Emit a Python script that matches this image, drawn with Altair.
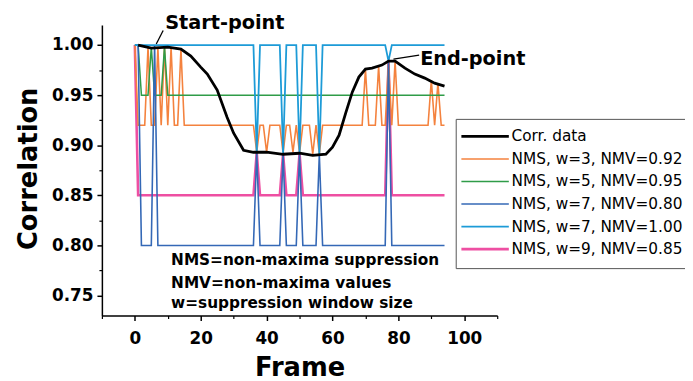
import altair as alt
import pandas as pd

# ---------------- data ----------------
series_names = [
    "Corr. data",
    "NMS, w=3, NMV=0.92",
    "NMS, w=5, NMV=0.95",
    "NMS, w=7, NMV=0.80",
    "NMS, w=7, NMV=1.00",
    "NMS, w=9, NMV=0.85",
]
series_colors = ["#000000", "#f4823e", "#2f9c48", "#3468b6", "#1d9bd7", "#ee4fa2"]
series_widths = [2.8, 1.6, 1.5, 1.6, 1.8, 2.6]

corr_frames = [1, 5, 10, 14, 17, 20, 22, 25, 28, 30, 33, 36, 40, 45, 50, 54, 58, 60,
               62, 64, 66, 68, 70, 72, 75, 77, 79, 82, 85, 88, 91, 94]
corr_values = [1.000, 0.997, 0.998, 0.996, 0.989, 0.978, 0.971, 0.955, 0.928, 0.912,
               0.895, 0.893, 0.893, 0.891, 0.892, 0.890, 0.891, 0.898, 0.910, 0.932,
               0.953, 0.968, 0.976, 0.977, 0.980, 0.984, 0.984, 0.977, 0.971, 0.967,
               0.962, 0.959]

w3_frames = [0, 1, 3, 4, 5, 6, 7, 8, 9, 10, 11, 12, 13, 14, 15, 36, 37, 38, 39, 40, 41,
             44, 45, 46, 47, 48, 49, 50, 51, 53, 54, 55, 56, 57, 69, 70, 71, 73, 74, 75,
             76, 77, 78, 79, 80, 89, 90, 91, 92, 93, 94]
w3_values = [1.000, 0.920, 0.920, 0.998, 0.920, 0.920, 0.997, 0.920, 0.998, 0.920, 0.998,
             0.920, 0.920, 0.996, 0.920, 0.920, 0.893, 0.920, 0.920, 0.893, 0.920,
             0.920, 0.892, 0.920, 0.920, 0.893, 0.920, 0.892, 0.920, 0.920, 0.891, 0.920,
             0.891, 0.920, 0.920, 0.976, 0.920, 0.920, 0.979, 0.920, 0.920, 0.984, 0.920,
             0.984, 0.920, 0.920, 0.965, 0.920, 0.962, 0.920, 0.920]

w5_frames = [0, 1, 2, 4, 5, 6, 8, 9, 10, 94]
w5_values = [1.000, 1.000, 0.950, 0.950, 0.998, 0.950, 0.950, 0.998, 0.950, 0.950]

w7a_frames = [0, 1, 2, 5, 6, 7, 36, 37, 38, 44, 45, 46, 49, 50, 51, 55, 56, 57, 76, 77, 78, 94]
w7a_values = [1.000, 1.000, 0.800, 0.800, 1.000, 0.800, 0.800, 0.893, 0.800, 0.800, 0.892,
              0.800, 0.800, 0.892, 0.800, 0.800, 0.891, 0.800, 0.800, 0.984, 0.800, 0.800]

w7b_frames = [0, 36, 37, 38, 44, 45, 46, 49, 50, 51, 55, 56, 57, 76, 77, 78, 94]
w7b_values = [1.000, 1.000, 0.893, 1.000, 1.000, 0.892, 1.000, 1.000, 0.892, 1.000,
              1.000, 0.891, 1.000, 1.000, 0.984, 1.000, 1.000]

w9_frames = [0, 1, 36, 37, 38, 44, 45, 46, 49, 50, 51, 76, 77, 78, 94]
w9_values = [1.000, 0.850, 0.850, 0.893, 0.850, 0.850, 0.892, 0.850, 0.850, 0.892,
             0.850, 0.850, 0.984, 0.850, 0.850]

x_major = [0, 20, 40, 60, 80, 100]
x_minor = [-10, 10, 30, 50, 70, 90, 110]
y_major = [0.75, 0.80, 0.85, 0.90, 0.95, 1.00]
y_minor = [0.775, 0.825, 0.875, 0.925, 0.975]

note_lines = ["NMS=non-maxima suppression", "NMV=non-maxima values", "w=suppression window size"]
note_frames = [11.0, 11.0, 11.0]
note_values = [0.7806, 0.7579, 0.7372]

label_texts = ["Start-point", "End-point"]
label_frames = [9.2, 86.6]
label_values = [1.0158, 0.980]
leader_x = [6.5, 78.5]
leader_y = [1.001, 0.986]
leader_x2 = [8.6, 86.3]
leader_y2 = [1.0145, 0.990]

# ---------------- tables ----------------
all_series = [
    (series_names[0], corr_frames, corr_values),
    (series_names[1], w3_frames, w3_values),
    (series_names[2], w5_frames, w5_values),
    (series_names[3], w7a_frames, w7a_values),
    (series_names[4], w7b_frames, w7b_values),
    (series_names[5], w9_frames, w9_values),
]
rows = []
for name, frs, vals in all_series:
    for f, v in zip(frs, vals):
        rows.append({"series": name, "frame": f, "value": v})
df = pd.DataFrame(rows)

notes_df = pd.DataFrame({"text": note_lines, "frame": note_frames, "value": note_values})
labels_df = pd.DataFrame({"text": label_texts, "frame": label_frames, "value": label_values})
leaders_df = pd.DataFrame({"x": leader_x, "y": leader_y, "x2": leader_x2, "y2": leader_y2})

FONT = "DejaVu Sans"
x_scale = alt.Scale(domain=[-10, 110], nice=False, zero=False)
y_scale = alt.Scale(domain=[0.73, 1.02], nice=False, zero=False)
color_scale = alt.Scale(domain=series_names, range=series_colors)
width_scale = alt.Scale(type="ordinal", domain=series_names, range=series_widths)

x_axis = alt.Axis(orient="bottom", values=x_major, format="d", grid=False, tickSize=5,
                  tickWidth=1.5, domainWidth=1.5, domainColor="black", tickColor="black",
                  labelPadding=10, labelFont=FONT, labelFontSize=17, labelFontWeight="bold",
                  labelColor="black", title="Frame", titleFont=FONT, titleFontSize=26,
                  titleFontWeight="bold", titleColor="black", titleX=200, titleY=61,
                  titleAlign="center", titleBaseline="alphabetic")
y_axis = alt.Axis(orient="left", values=y_major, format=".2f", grid=False, tickSize=5,
                  tickWidth=1.5, domainWidth=1.5, domainColor="black", tickColor="black",
                  labelPadding=4, labelFont=FONT, labelFontSize=17, labelFontWeight="bold",
                  labelColor="black", title="Correlation", titleFont=FONT, titleFontSize=26,
                  titleFontWeight="bold", titleColor="black", titleX=-66, titleY=145,
                  titleAngle=270, titleAlign="center", titleBaseline="alphabetic")
x_axis_minor = alt.Axis(orient="bottom", values=x_minor, labels=False, grid=False, tickSize=3,
                        tickWidth=1.2, tickColor="black", domain=False, title="")
y_axis_minor = alt.Axis(orient="left", values=y_minor, labels=False, grid=False, tickSize=3,
                        tickWidth=1.2, tickColor="black", domain=False, title="")

legend = alt.Legend(title=None, orient="none", legendX=358, legendY=95,
                    symbolType="M-2,0H6", symbolSize=144,
                    labelFont=FONT, labelFontSize=15.5, labelColor="black", labelLimit=0,
                    labelOffset=31, rowPadding=5.8, padding=10,
                    strokeColor="#555555", fillColor="white", cornerRadius=0)

draw_order = [series_names[5], series_names[1], series_names[2], series_names[3],
              series_names[4], series_names[0]]

layers = []
for i, name in enumerate(draw_order):
    if i == 0:
        xenc = alt.X("frame:Q", scale=x_scale, axis=x_axis)
        yenc = alt.Y("value:Q", scale=y_scale, axis=y_axis)
    elif i == 1:
        xenc = alt.X("frame:Q", scale=x_scale, axis=x_axis_minor)
        yenc = alt.Y("value:Q", scale=y_scale, axis=y_axis_minor)
    else:
        xenc = alt.X("frame:Q", scale=x_scale, axis=None)
        yenc = alt.Y("value:Q", scale=y_scale, axis=None)
    layers.append(
        alt.Chart(df).transform_filter(alt.datum.series == name)
        .mark_line(strokeJoin="miter")
        .encode(x=xenc, y=yenc,
                color=alt.Color("series:N", scale=color_scale, legend=legend),
                strokeWidth=alt.StrokeWidth("series:N", scale=width_scale, legend=legend))
    )

notes = alt.Chart(notes_df).mark_text(align="left", baseline="alphabetic", font=FONT,
                                      fontSize=15.5, fontWeight="bold", color="black").encode(
    x=alt.X("frame:Q", scale=x_scale, axis=None),
    y=alt.Y("value:Q", scale=y_scale, axis=None),
    text="text:N")

labels = alt.Chart(labels_df).mark_text(align="left", baseline="alphabetic", font=FONT,
                                        fontSize=19.5, fontWeight="bold", color="black").encode(
    x=alt.X("frame:Q", scale=x_scale, axis=None),
    y=alt.Y("value:Q", scale=y_scale, axis=None),
    text="text:N")

leaders = alt.Chart(leaders_df).mark_rule(color="black", strokeWidth=1.3).encode(
    x=alt.X("x:Q", scale=x_scale, axis=None),
    y=alt.Y("y:Q", scale=y_scale, axis=None),
    x2="x2:Q", y2="y2:Q")

chart = alt.layer(*layers, notes, labels, leaders).resolve_axis(
    x="independent", y="independent"
).properties(
    width=400, height=294,
    autosize=alt.AutoSizeParams(type="none"),
    padding={"left": 95, "top": 15, "right": 190, "bottom": 64},
    background="white",
).configure_view(stroke=None)

chart.save("out.html", embed_options={"renderer": "svg", "actions": False})
